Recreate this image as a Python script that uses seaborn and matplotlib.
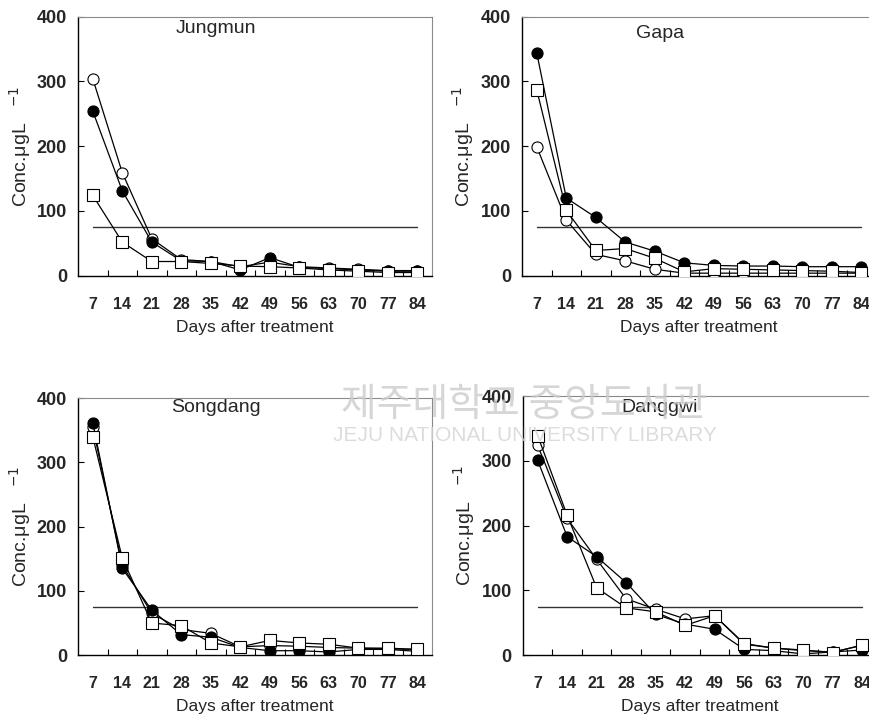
import numpy as np
import pandas as pd
import matplotlib
matplotlib.use("Agg")
import matplotlib.pyplot as plt
import seaborn as sns
from matplotlib.ticker import FixedLocator

# %% data (Conc. ug/L)
days = [7, 14, 21, 28, 35, 42, 49, 56, 63, 70, 77, 84]
threshold = 75

jungmun_open = [304, 159, 57, 25, 22, 14, 21, 14, 12, 10, 8, 8]
jungmun_filled = [254, 131, 52, 23, 22, 9, 28, 13, 11, 9, 7, 7]
jungmun_square = [124, 52, 22, 22, 19, 15, 14, 12, 9, 7, 5, 5]

gapa_open = [199, 86, 33, 23, 10, 4, 4, 4, 4, 4, 4, 4]
gapa_filled = [344, 120, 90, 52, 38, 20, 16, 15, 15, 14, 14, 14]
gapa_square = [287, 101, 39, 42, 27, 6, 11, 10, 9, 8, 7, 5]

songdang_open = [355, 140, 65, 40, 34, 13, 15, 14, 12, 11, 10, 9]
songdang_filled = [362, 135, 70, 32, 28, 12, 7, 7, 5, 9, 9, 6]
songdang_square = [340, 151, 50, 46, 19, 13, 23, 19, 17, 11, 11, 9]

danggwi_open = [324, 211, 148, 87, 71, 56, 61, 17, 11, 7, 5, 15]
danggwi_filled = [301, 183, 152, 112, 63, 48, 40, 9, 7, 2, 5, 8]
danggwi_square = [339, 216, 104, 73, 67, 46, 61, 18, 11, 8, 4, 16]

sites = ["Jungmun", "Gapa", "Songdang", "Danggwi"]
site_data = {
    "Jungmun": (jungmun_open, jungmun_filled, jungmun_square),
    "Gapa": (gapa_open, gapa_filled, gapa_square),
    "Songdang": (songdang_open, songdang_filled, songdang_square),
    "Danggwi": (danggwi_open, danggwi_filled, danggwi_square),
}

# %% style
sns.set_theme(style="white")
plt.rcParams["font.family"] = ["Liberation Sans", "DejaVu Sans"]

fig = plt.figure(figsize=(8.7, 7.2), dpi=100)

# [left, bottom, width, height] in figure fraction
boxes = {
    "Jungmun": [0.0897, 0.617, 0.407, 0.360],
    "Gapa": [0.600, 0.617, 0.407, 0.360],
    "Songdang": [0.0897, 0.090, 0.407, 0.357],
    "Danggwi": [0.601, 0.090, 0.407, 0.360],
}
title_pos = {
    "Jungmun": (0.39, 0.955),
    "Gapa": (0.39, 0.935),
    "Songdang": (0.39, 0.962),
    "Danggwi": (0.387, 0.955),
}

line_kw = dict(color="black", linewidth=0.9, markersize=8,
               markeredgecolor="black", markeredgewidth=0.8)


def draw_site(ax, name):
    s_open, s_filled, s_square = site_data[name]
    sns.pointplot(x=days, y=[threshold] * len(days), ax=ax, marker="None",
                  color="#333333", linewidth=1.0, zorder=2)
    sns.pointplot(x=days, y=s_open, ax=ax, marker="o",
                  markerfacecolor="white", zorder=3, **line_kw)
    sns.pointplot(x=days, y=s_filled, ax=ax, marker="o",
                  markerfacecolor="black", zorder=4, **line_kw)
    sns.pointplot(x=days, y=s_square, ax=ax, marker="s",
                  markerfacecolor="white", zorder=5, **line_kw)

    ax.set_ylim(0, 400)
    ax.set_yticks([0, 100, 200, 300, 400])
    ax.set_xlim(-0.5, len(days) - 0.5)
    ax.xaxis.set_minor_locator(FixedLocator(np.arange(0.5, len(days) - 1, 1)))
    ax.tick_params(axis="x", which="major", length=0, pad=15,
                   labelsize=11.5)
    ax.tick_params(axis="x", which="minor", direction="in", length=4.5,
                   width=0.8, color="black", bottom=True)
    ax.tick_params(axis="y", direction="in", length=4, width=0.8,
                   color="black", left=True, pad=8, labelsize=13)
    for lab in ax.get_xticklabels() + ax.get_yticklabels():
        lab.set_fontweight("bold")

    for side in ["left", "bottom"]:
        ax.spines[side].set_color("black")
        ax.spines[side].set_linewidth(1.0)
    for side in ["top", "right"]:
        ax.spines[side].set_color("#8a8a8a")
        ax.spines[side].set_linewidth(0.8)

    ax.set_xlabel("Days after treatment", fontsize=12.5, labelpad=6)
    ax.set_ylabel("Conc.\u03bcgL   $^{-1}$", fontsize=14, labelpad=3)
    tx, ty = title_pos[name]
    ax.text(tx, ty, name, transform=ax.transAxes, ha="center",
            va="center", fontsize=14)


for name in sites:
    ax = fig.add_axes(boxes[name])
    draw_site(ax, name)

# library watermark of the scanned source
fig.text(0.603, 0.437, "제주대학교 중앙도서관", ha="center", va="center",
         fontsize=28, color="#cccccc", alpha=0.8,
         family=["Noto Sans CJK KR", "DejaVu Sans"], zorder=0)
fig.text(0.603, 0.395, "JEJU NATIONAL UNIVERSITY LIBRARY", ha="center",
         va="center", fontsize=15, color="#d4d4d4", alpha=0.8, zorder=0)

fig.savefig("out.png", dpi=100)
